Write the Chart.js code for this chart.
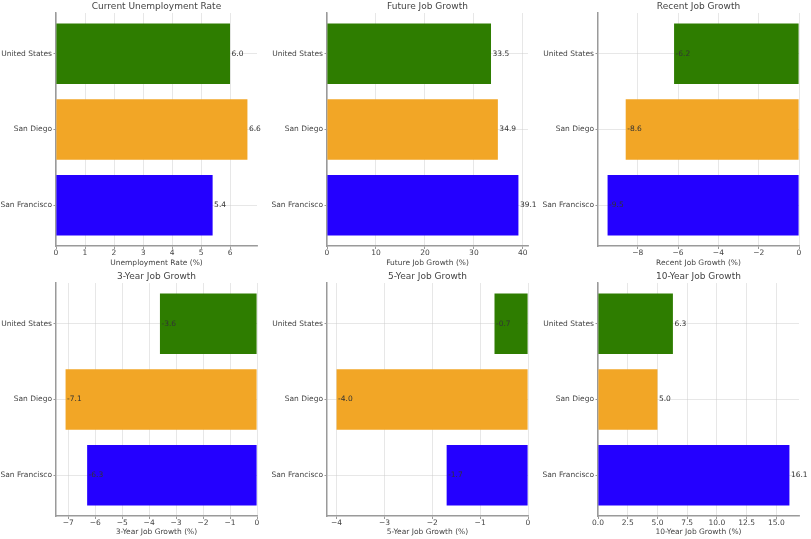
<!DOCTYPE html>
<html><head><meta charset="utf-8">
<script src="https://cdn.jsdelivr.net/npm/chart.js@4"></script>
<style>
html,body{margin:0;padding:0;background:#fff;}
#wrap{position:relative;width:811px;height:539px;overflow:hidden;background:#fff}
.cell{position:absolute}
</style></head><body><div id="wrap"></div>
<script>
// ---- data ----
const categories = ['United States', 'San Diego', 'San Francisco'];
const barColors = ['#2e7d00', '#f2a626', '#2400ff'];

const unemploymentRate = [6.0, 6.6, 5.4];
const futureJobGrowth = [33.5, 34.9, 39.1];
const recentJobGrowth = [-6.2, -8.6, -9.5];
const threeYearJobGrowth = [-3.6, -7.1, -6.3];
const fiveYearJobGrowth = [-0.7, -4.0, -1.7];
const tenYearJobGrowth = [6.3, 5.0, 16.1];

const ticksUnemployment = [0, 1, 2, 3, 4, 5, 6];
const ticksFuture = [0, 10, 20, 30, 40];
const ticksRecent = [-8, -6, -4, -2, 0];
const ticksThreeYear = [-7, -6, -5, -4, -3, -2, -1, 0];
const ticksFiveYear = [-4, -3, -2, -1, 0];
const ticksTenYear = [0, 2.5, 5, 7.5, 10, 12.5, 15];

const panelTitles = ['Current Unemployment Rate', 'Future Job Growth', 'Recent Job Growth',
                     '3-Year Job Growth', '5-Year Job Growth', '10-Year Job Growth'];
const axisTitles = ['Unemployment Rate (%)', 'Future Job Growth (%)', 'Recent Job Growth (%)',
                    '3-Year Job Growth (%)', '5-Year Job Growth (%)', '10-Year Job Growth (%)'];
const tickDecimals = [0, 0, 0, 0, 0, 1];

const panelValues = [unemploymentRate, futureJobGrowth, recentJobGrowth,
                     threeYearJobGrowth, fiveYearJobGrowth, tenYearJobGrowth];
const panelTicks = [ticksUnemployment, ticksFuture, ticksRecent,
                    ticksThreeYear, ticksFiveYear, ticksTenYear];

// ---- layout ----
const FONT = "'DejaVu Sans', sans-serif";
Chart.defaults.font.family = FONT;
const colX = [0, 270, 540], colW = [270, 270, 271];
const rowY = [0, 270], rowH = [270, 269];
const areaLeft = [56, 57, 58];
const areaW = 201, areaTop = 13, areaH = 233;
const TEXT = '#444';
const SPINE = '#9a9a9a';
const GRID = 'rgba(200,200,200,0.55)';

const fmtTick = (v, d) => (v < 0 ? '\u2212' : '') + Math.abs(v).toFixed(d);

const titlePlugin = {
  id: 'panelTitle',
  afterDraw(chart, args, opts) {
    const {ctx, chartArea} = chart;
    ctx.save();
    ctx.font = '9px ' + FONT;
    ctx.fillStyle = TEXT;
    ctx.textAlign = 'center';
    ctx.textBaseline = 'middle';
    ctx.fillText(opts.text, (chartArea.left + chartArea.right) / 2, opts.y);
    ctx.restore();
  }
};
const valueLabelPlugin = {
  id: 'valueLabels',
  afterDatasetsDraw(chart) {
    const {ctx} = chart;
    const xs = chart.scales.x;
    const meta = chart.getDatasetMeta(0);
    const data = chart.data.datasets[0].data;
    ctx.save();
    ctx.font = '7.5px ' + FONT;
    ctx.fillStyle = '#333';
    ctx.textAlign = 'left';
    ctx.textBaseline = 'middle';
    meta.data.forEach((bar, i) => {
      const v = data[i].x;
      ctx.fillText(v.toFixed(1), xs.getPixelForValue(v) + 1.5, bar.y);
    });
    ctx.restore();
  }
};

const wrap = document.getElementById('wrap');
for (let p = 0; p < 6; p++) {
  const r = Math.floor(p / 3), c = p % 3;
  const div = document.createElement('div');
  div.className = 'cell';
  div.style.left = colX[c] + 'px';
  div.style.top = rowY[r] + 'px';
  div.style.width = colW[c] + 'px';
  div.style.height = rowH[r] + 'px';
  const cv = document.createElement('canvas');
  cv.width = colW[c];
  cv.height = rowH[r];
  cv.style.width = colW[c] + 'px';
  cv.style.height = rowH[r] + 'px';
  div.appendChild(cv);
  wrap.appendChild(div);

  const vals = panelValues[p];
  const ticks = panelTicks[p];
  const dmin = Math.min(0, ...vals), dmax = Math.max(0, ...vals);
  const span = dmax - dmin;
  const xmin = dmin < 0 ? dmin - 0.05 * span : 0;
  const xmax = dmax > 0 ? dmax + 0.05 * span : 0;
  const dec = tickDecimals[p];

  new Chart(cv, {
    type: 'bar',
    data: {
      datasets: [{
        data: vals.map((v, i) => ({x: v, y: i})),
        backgroundColor: barColors,
        borderWidth: 0,
        categoryPercentage: 1,
        barPercentage: 0.8
      }]
    },
    options: {
      indexAxis: 'y',
      responsive: false,
      animation: false,
      devicePixelRatio: 1,
      layout: {padding: {left: 0, top: areaTop, right: colW[c] - areaLeft[c] - areaW, bottom: 0}},
      plugins: {
        legend: {display: false},
        tooltip: {enabled: false},
        panelTitle: {text: panelTitles[p], y: 6.5}
      },
      scales: {
        x: {
          type: 'linear',
          position: 'bottom',
          min: xmin,
          max: xmax,
          bounds: 'data',
          offset: false,
          z: 1,
          afterBuildTicks: s => { s.ticks = ticks.map(v => ({value: v})); },
          afterFit: s => { s.height = rowH[r] - areaTop - areaH; },
          ticks: {
            autoSkip: false, maxRotation: 0, padding: 0,
            color: TEXT, font: {size: 7.5, family: FONT},
            callback: v => fmtTick(v, dec)
          },
          grid: {
            offset: false,
            color: GRID, borderDash: [1, 2], lineWidth: 0.8,
            tickLength: 3, tickColor: SPINE, tickWidth: 1, tickBorderDash: []
          },
          border: {display: true, color: SPINE, width: 1.5},
          title: {
            display: true, text: axisTitles[p], color: TEXT,
            font: {size: 7.5, family: FONT}, padding: {top: 0, bottom: 2.5}
          }
        },
        y: {
          type: 'linear',
          position: 'left',
          min: -0.54,
          max: 2.54,
          bounds: 'data',
          offset: false,
          reverse: true,
          z: 1,
          afterBuildTicks: s => { s.ticks = categories.map((_, i) => ({value: i})); },
          afterFit: s => { s.width = areaLeft[c]; },
          ticks: {
            autoSkip: false, padding: 1.5,
            color: TEXT, font: {size: 7.5, family: FONT},
            callback: v => categories[v]
          },
          grid: {
            offset: false,
            color: GRID, borderDash: [1, 2], lineWidth: 0.8,
            tickLength: 2.5, tickColor: SPINE, tickWidth: 1, tickBorderDash: []
          },
          border: {display: true, color: SPINE, width: 1.5}
        }
      }
    },
    plugins: [titlePlugin, valueLabelPlugin]
  });
}
</script>
</body></html>
